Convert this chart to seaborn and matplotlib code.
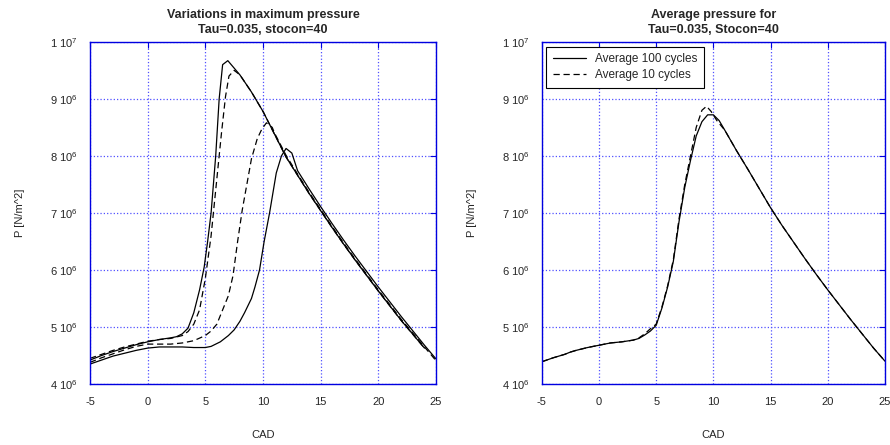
"""
Cylinder pressure vs crank angle: cycle-to-cycle variation of the maximum
pressure (left) and averaged pressure traces (right).
"""

import numpy as np
import seaborn as sns
import matplotlib.pyplot as plt

# ---- data (pressure in units of 1e6 N/m^2) ----
# left panel: four individual cycles
cad_a = [-5, -4, -3, -2, -1, 0, 1, 2, 2.5, 3, 3.5, 4, 4.5, 4.9, 5.2, 5.5, 5.9, 6.2, 6.5, 6.95,
         8, 9, 10, 11, 12, 13, 14, 15, 16, 17, 18, 19, 20, 21, 22, 23, 24]
p_a = [4.42, 4.5, 4.57, 4.63, 4.69, 4.74, 4.78, 4.81, 4.83, 4.88, 4.98, 5.25, 5.65, 6.05, 6.5, 7.0,
       8.0, 9.0, 9.6, 9.67, 9.42, 9.12, 8.78, 8.38, 7.98, 7.66, 7.34, 7.04, 6.74, 6.45, 6.17, 5.9,
       5.63, 5.37, 5.11, 4.87, 4.63]

cad_b = [-5, -4, -3, -2, -1, 0, 1, 2, 3, 3.5, 4, 4.5, 5, 5.5, 6, 6.4, 6.75, 7.05, 7.5, 8,
         9, 10, 11, 12, 13, 14, 15, 16, 17, 18, 19, 20, 21, 22, 23, 24]
p_b = [4.45, 4.52, 4.59, 4.65, 4.7, 4.75, 4.78, 4.8, 4.85, 4.92, 5.05, 5.3, 5.85, 6.6, 7.6, 8.4,
       9.04, 9.4, 9.5, 9.42, 9.12, 8.78, 8.38, 7.98, 7.66, 7.34, 7.04, 6.74, 6.45, 6.17, 5.9,
       5.63, 5.37, 5.11, 4.87, 4.63]

cad_c = [-5, -4, -3, -2, -1, 0, 1, 2, 3, 4, 5, 5.5, 6, 6.5, 7, 7.4, 7.8, 8.2, 8.6, 9.0, 9.5,
         9.9, 10.3, 10.8, 11, 12, 13, 14, 15, 16, 17, 18, 19, 20, 21, 22, 23, 24, 25]
p_c = [4.38, 4.46, 4.53, 4.6, 4.66, 4.7, 4.7, 4.7, 4.72, 4.76, 4.85, 4.93, 5.05, 5.3, 5.55, 5.9,
       6.5, 7.05, 7.5, 7.95, 8.3, 8.47, 8.58, 8.5, 8.4, 8.01, 7.68, 7.36, 7.06, 6.76, 6.47, 6.19,
       5.92, 5.65, 5.39, 5.13, 4.89, 4.65, 4.41]

cad_d = [-5, -4, -3, -2, -1, 0, 1, 2, 3, 4, 5, 5.5, 6.3, 7, 7.5, 8, 8.4, 9, 9.3, 9.7, 10.1,
         10.57, 11.15, 11.6, 12, 12.5, 13, 14, 15, 16, 17, 18, 19, 20, 21, 22, 23, 24, 25]
p_d = [4.35, 4.42, 4.49, 4.54, 4.59, 4.63, 4.65, 4.65, 4.65, 4.64, 4.64, 4.66, 4.74, 4.85, 4.95,
       5.1, 5.25, 5.5, 5.7, 6.0, 6.5, 7.0, 7.7, 8.0, 8.13, 8.05, 7.74, 7.42, 7.11, 6.81, 6.52,
       6.24, 5.97, 5.7, 5.44, 5.18, 4.93, 4.68, 4.44]

# right panel: averaged traces
cad_avg100 = [-5, -4, -3, -2.5, -2, -1, 0, 1, 2, 3, 3.5, 4, 4.5, 5, 5.5, 6, 6.5, 7, 7.5, 8, 8.5,
              9, 9.5, 10, 10.5, 11, 12, 13, 14, 15, 16, 17, 18, 19, 20, 21, 22, 23, 24, 25]
p_avg100 = [4.39, 4.46, 4.52, 4.56, 4.59, 4.64, 4.68, 4.72, 4.74, 4.77, 4.8, 4.86, 4.93, 5.03,
            5.33, 5.7, 6.15, 6.85, 7.45, 7.92, 8.35, 8.6, 8.72, 8.72, 8.62, 8.45, 8.1, 7.77, 7.43,
            7.09, 6.78, 6.49, 6.2, 5.92, 5.65, 5.39, 5.13, 4.88, 4.63, 4.4]

cad_avg10 = [-5, -4, -3, -2.5, -2, -1, 0, 1, 2, 3, 3.5, 4, 4.5, 5, 5.5, 6, 6.5, 7, 7.5, 8, 8.5,
             9, 9.4, 9.8, 10.3, 11, 12, 13, 14, 15, 16, 17, 18, 19, 20, 21, 22, 23, 24, 25]
p_avg10 = [4.39, 4.46, 4.52, 4.56, 4.59, 4.64, 4.68, 4.72, 4.74, 4.77, 4.81, 4.88, 4.97, 5.05,
           5.35, 5.72, 6.18, 6.9, 7.5, 8.0, 8.5, 8.8, 8.87, 8.78, 8.62, 8.45, 8.1, 7.77, 7.43,
           7.09, 6.78, 6.49, 6.2, 5.92, 5.65, 5.39, 5.13, 4.88, 4.63, 4.4]

x_ticks = [-5, 0, 5, 10, 15, 20, 25]
y_ticks = [4, 5, 6, 7, 8, 9, 10]
y_tick_labels = [r"4 10$^6$", r"5 10$^6$", r"6 10$^6$", r"7 10$^6$",
                 r"8 10$^6$", r"9 10$^6$", r"1 10$^7$"]

left_title = "Variations in maximum pressure\nTau=0.035, stocon=40"
right_title = "Average pressure for\nTau=0.035, Stocon=40"


def style_axes(ax, title):
    ax.set_xlim(-5, 25)
    ax.set_ylim(4e6, 1e7)
    ax.set_xticks(x_ticks)
    ax.set_yticks([v * 1e6 for v in y_ticks])
    ax.set_yticklabels(y_tick_labels)
    ax.grid(True, color="#5050ff", linestyle=":", linewidth=0.9)
    for sp in ax.spines.values():
        sp.set_color("#0000e0")
        sp.set_linewidth(1.0)
        sp.set_visible(True)
    ax.tick_params(direction="in", length=4, color="#0000e0", labelsize=8,
                   top=True, right=True, pad=9)
    ax.set_xlabel("CAD", fontsize=8, labelpad=17)
    ax.set_ylabel("P [N/m^2]", fontsize=8, labelpad=18)
    ax.set_title(title, fontsize=9, fontweight="bold", pad=6, linespacing=1.35)


def line(ax, x, y, dashed=False, label=None):
    sns.lineplot(x=np.array(x), y=np.array(y) * 1e6, ax=ax, sort=False, estimator=None,
                 color="black", linewidth=0.9, label=label,
                 linestyle=(0, (5, 3)) if dashed else "-")


def main():
    sns.set_style("white")
    plt.rcParams["font.family"] = ["Liberation Sans", "DejaVu Sans"]
    plt.rcParams["mathtext.fontset"] = "custom"
    plt.rcParams["mathtext.rm"] = "Liberation Sans"
    plt.rcParams["mathtext.default"] = "regular"
    plt.rcParams["axes.unicode_minus"] = False

    fig = plt.figure(figsize=(8.9, 4.45), dpi=100)
    ax1 = fig.add_axes([0.1011, 0.137, 0.3888, 0.769])
    ax2 = fig.add_axes([0.6087, 0.137, 0.3857, 0.769])

    line(ax1, cad_a, p_a)
    line(ax1, cad_b, p_b, dashed=True)
    line(ax1, cad_c, p_c, dashed=True)
    line(ax1, cad_d, p_d)
    style_axes(ax1, left_title)

    line(ax2, cad_avg100, p_avg100, label="Average 100 cycles")
    line(ax2, cad_avg10, p_avg10, dashed=True, label="Average 10 cycles")
    style_axes(ax2, right_title)
    leg = ax2.legend(loc="upper left", fontsize=8.5, fancybox=False, framealpha=1,
                     borderaxespad=0.4, handlelength=2.8, borderpad=0.55,
                     labelspacing=0.35)
    leg.get_frame().set_edgecolor("black")
    leg.get_frame().set_linewidth(0.8)

    fig.savefig("out.png", dpi=100)


if __name__ == "__main__":
    main()
